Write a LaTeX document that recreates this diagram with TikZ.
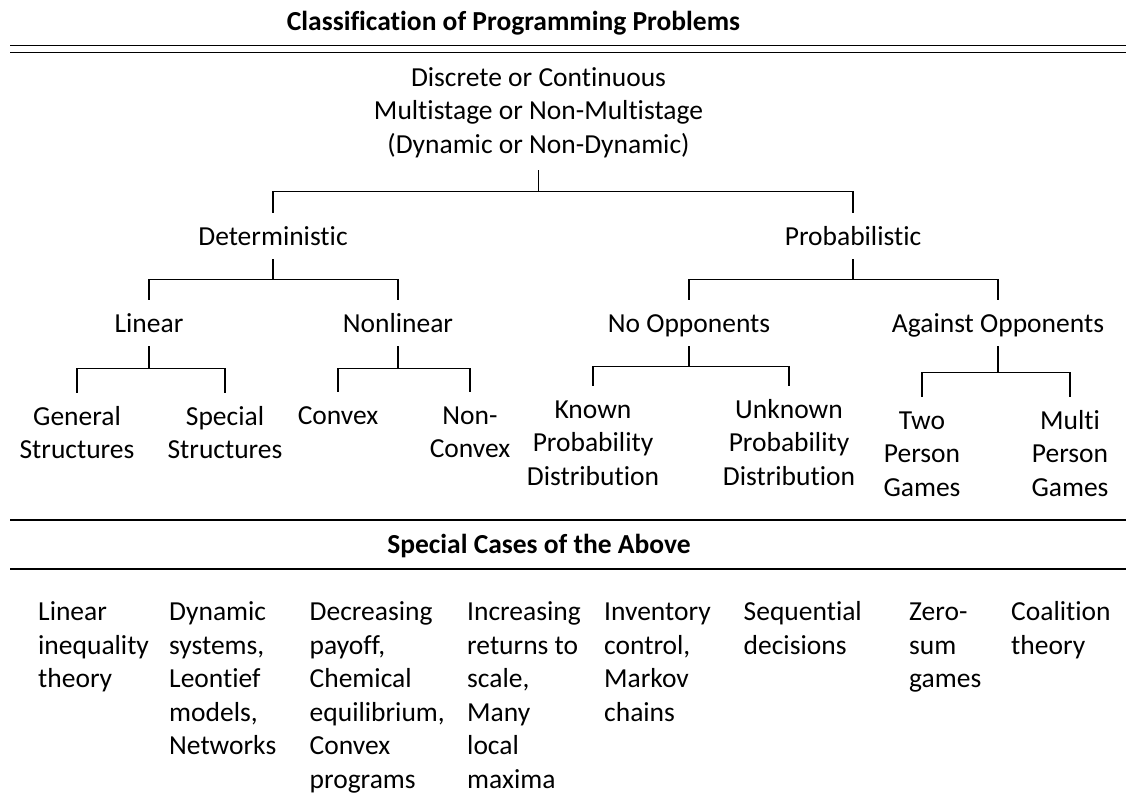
\documentclass[tikz,border=0pt]{standalone}
\usepackage{fontspec}
\setmainfont[Ligatures={NoCommon}]{Carlito}
\tikzset{
  lbl/.style={inner sep=0pt, anchor=base, align=center, text height=32pt, text depth=14pt},
  lbltwo/.style={lbl, text height=65.5pt},
  lblthree/.style={lbl, text height=99pt},
  head/.style={inner sep=0pt, anchor=base, font=\fontsize{27.5}{33.5}\selectfont\bfseries},
  case/.style={inner sep=0pt, anchor=base west, align=left},
  branch/.style={line width=1.3pt},
  rule/.style={line width=1.5pt}
}
\begin{document}
\begin{tikzpicture}[x=1pt, y=-1pt, font=\fontsize{27.5}{33.5}\selectfont]
  \useasboundingbox (0,0) rectangle (1126,792);

  % headings and rules
  \node[head] (title) at (513.5,31) {Classification of Programming Problems};
  \draw[rule] (10,45.7) -- (1126,45.7);
  \draw[rule] (10,52.7) -- (1126,52.7);
  \draw[rule] (10,520) -- (1126,520);
  \node[head] (special) at (539,553) {Special Cases of the Above};
  \draw[rule] (10,569) -- (1126,569);

  % the tree (multi-line nodes sit on their last baseline)
  \node[lbl, text depth=17pt] (root) at (538.5,153)
    {Discrete or Continuous\\Multistage or Non-Multistage\\(Dynamic or Non-Dynamic)};
  \node[lbl] (det)  at (273,245) {Deterministic};
  \node[lbl] (prob) at (853,245) {Probabilistic};
  \node[lbl] (lin)    at (149,332) {Linear};
  \node[lbl] (nonlin) at (398,332) {Nonlinear};
  \node[lbl] (nopp)   at (689,332) {No Opponents};
  \node[lbl] (aopp)   at (998,332) {Against Opponents};
  \node[lbltwo] (gen)      at (77,458.5)  {General\\Structures};
  \node[lbltwo] (spec)     at (225,458.5) {Special\\Structures};
  \node[lbl] (cvx)         at (338,424)   {Convex};
  \node[lbltwo] (ncvx)     at (470,457.5) {Non-\\Convex};
  \node[lblthree] (known)   at (593,485)  {Known\\Probability\\Distribution};
  \node[lblthree] (unknown) at (789,485)  {Unknown\\Probability\\Distribution};
  \node[lblthree] (two)     at (922,496)  {Two\\Person\\Games};
  \node[lblthree] (multi)   at (1070,496) {Multi\\Person\\Games};

  \draw[branch] (root.south) -- ++(0,21) -| (det.north);
  \draw[branch] (root.south) ++(0,21) -| (prob.north);
  \draw[branch] (det.south) -- ++(0,20) -| (lin.north);
  \draw[branch] (det.south) ++(0,20) -| (nonlin.north);
  \draw[branch] (prob.south) -- ++(0,20) -| (nopp.north);
  \draw[branch] (prob.south) ++(0,20) -| (aopp.north);
  \draw[branch] (lin.south) -- ++(0,22) -| (gen.north);
  \draw[branch] (lin.south) ++(0,22) -| (spec.north);
  \draw[branch] (nonlin.south) -- ++(0,22) -| (cvx.north);
  \draw[branch] (nonlin.south) ++(0,22) -| (ncvx.north);
  \draw[branch] (nopp.south) -- ++(0,20) -| (known.north);
  \draw[branch] (nopp.south) ++(0,20) -| (unknown.north);
  \draw[branch] (aopp.south) -- ++(0,26) -| (two.north);
  \draw[branch] (aopp.south) ++(0,26) -| (multi.north);

  % special cases, x / number of lines / text
  \foreach \x/\n/\txt [count=\i] in {
      38/3/{Linear\\inequality\\theory},
      169/5/{Dynamic\\systems,\\Leontief\\models,\\Networks},
      309.5/6/{Decreasing\\payoff,\\Chemical\\equilibrium,\\Convex\\programs},
      467/6/{Increasing\\returns to\\scale,\\Many\\local\\maxima},
      604/4/{Inventory\\control,\\Markov\\chains},
      743.5/2/{Sequential\\decisions},
      909/3/{Zero-\\sum\\games},
      1011/2/{Coalition\\theory}}
    \node[case] (case\i) at (\x,{620.5+(\n-1)*33.5}) {\txt};
\end{tikzpicture}
\end{document}
